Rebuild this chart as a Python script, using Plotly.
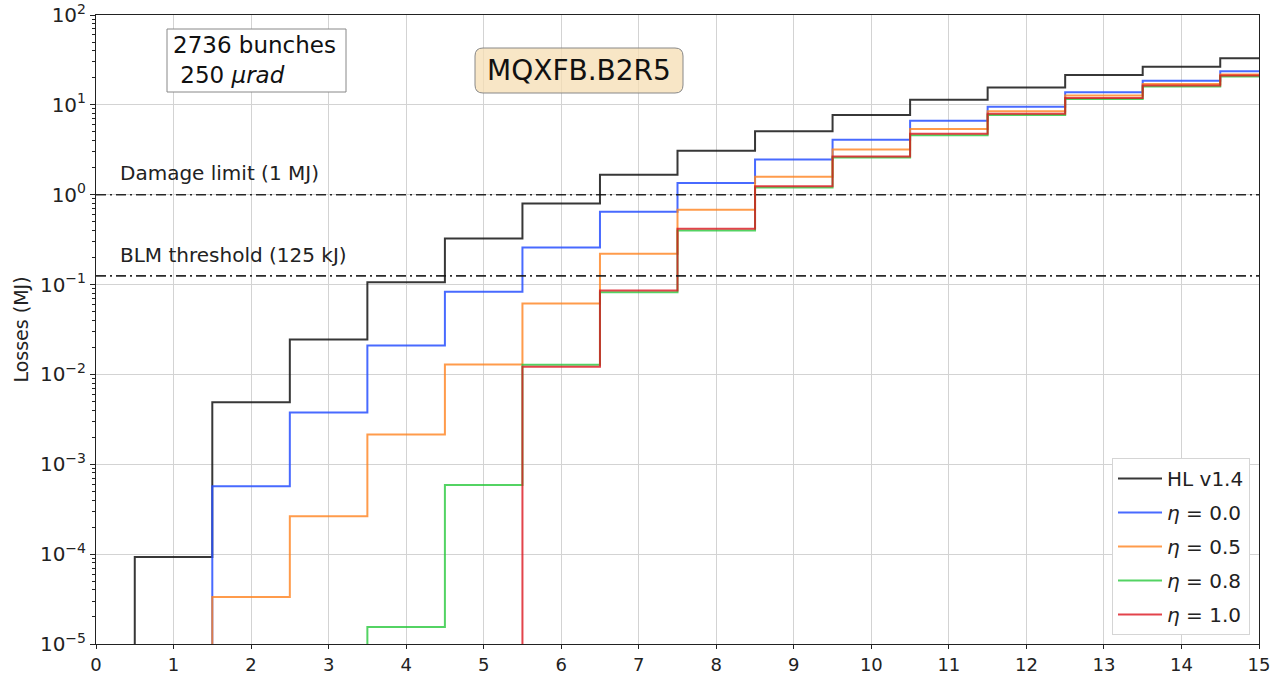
import plotly.graph_objects as go

# Bin index (bins centred on integers, edges at half-integers)
bins = list(range(0, 16))

# Losses per bin in MJ (0 = nothing lost in that bin)
loss_hl = [0, 9.3e-5, 4.9e-3, 2.45e-2, 0.106, 0.326, 0.80, 1.67, 3.08, 5.1, 7.7, 11.4, 15.6, 21.5, 26.5, 33.0]
loss_eta00 = [0, 0, 5.7e-4, 3.78e-3, 0.021, 0.083, 0.258, 0.647, 1.35, 2.47, 4.08, 6.64, 9.5, 13.8, 18.5, 23.7]
loss_eta05 = [0, 0, 3.33e-5, 2.64e-4, 2.15e-3, 0.0129, 0.0615, 0.221, 0.68, 1.585, 3.19, 5.37, 8.5, 12.7, 17.1, 21.7]
loss_eta08 = [0, 0, 0, 0, 1.55e-5, 5.9e-4, 0.0128, 0.082, 0.40, 1.20, 2.6, 4.6, 7.7, 11.6, 16.0, 20.7]
loss_eta10 = [0, 0, 0, 0, 0, 0, 0.0122, 0.0858, 0.419, 1.24, 2.66, 4.76, 7.94, 11.9, 16.4, 21.2]

series_names = ["HL v1.4", "<i>η</i> = 0.0", "<i>η</i> = 0.5", "<i>η</i> = 0.8", "<i>η</i> = 1.0"]
series_values = [loss_hl, loss_eta00, loss_eta05, loss_eta08, loss_eta10]
series_colors = ["rgba(20,20,20,0.85)", "rgba(40,80,255,0.85)", "rgba(255,130,30,0.8)",
                 "rgba(40,200,60,0.8)", "rgba(220,20,30,0.8)"]

damage_limit = 1.0      # MJ
blm_threshold = 0.125   # MJ

y_tick_exp = list(range(-5, 3))
x_ticks = list(range(0, 16))

FLOOR = 1e-12  # empty bins drawn far below the visible range

fig = go.Figure()
for i, (name, vals, col) in enumerate(zip(series_names, series_values, series_colors)):
    fig.add_trace(go.Scatter(
        x=bins, y=[v if v > 0 else FLOOR for v in vals],
        mode="lines", line=dict(color=col, width=2, shape="hvh"),
        name=name, legendgroup=f"g{i}",
    ))

for level in (damage_limit, blm_threshold):
    fig.add_shape(type="line", xref="x", yref="y", x0=0, x1=15, y0=level, y1=level,
                  line=dict(color="rgba(20,20,20,0.9)", width=1.6, dash="10px,4px,2px,4px"))

font = "DejaVu Sans, Verdana, sans-serif"
W, H = 1274, 674
L, R, T, B = 96, 15, 15, 30
pw, ph = W - L - R, H - T - B


def px(xp):
    return (xp - L) / pw


def py(yp):
    return (H - B - yp) / ph


# info box (square corners)
fig.add_shape(type="rect", xref="paper", yref="paper",
              x0=px(167), x1=px(346), y0=py(92), y1=py(29),
              line=dict(color="#888", width=1), fillcolor="white", layer="above")
fig.add_annotation(xref="paper", yref="paper", x=px(171), y=py(60), xanchor="left", yanchor="middle",
                   text="2736 bunches<br>\u00a0250 <i>μrad</i>", showarrow=False, align="left",
                   font=dict(family=font, size=23, color="#111"))

# magnet name in a rounded box
x0, x1, yb, yt = px(475), px(683), py(93), py(48)
rx, ry = 8 / pw, 8 / ph
path = (f"M{x0+rx},{yb} L{x1-rx},{yb} Q{x1},{yb} {x1},{yb+ry} L{x1},{yt-ry} Q{x1},{yt} {x1-rx},{yt} "
        f"L{x0+rx},{yt} Q{x0},{yt} {x0},{yt-ry} L{x0},{yb+ry} Q{x0},{yb} {x0+rx},{yb} Z")
fig.add_shape(type="path", xref="paper", yref="paper", path=path,
              fillcolor="rgba(245,222,179,0.75)", line=dict(color="#888", width=1), layer="above")
fig.add_annotation(xref="paper", yref="paper", x=px(579), y=py(71), xanchor="center", yanchor="middle",
                   text="MQXFB.B2R5", showarrow=False, font=dict(family=font, size=28, color="#111"))

fig.add_annotation(xref="paper", yref="paper", x=px(118), y=py(173), xanchor="left", yanchor="middle",
                   text="Damage limit (1 MJ)", showarrow=False, font=dict(family=font, size=20, color="#222"))
fig.add_annotation(xref="paper", yref="paper", x=px(118), y=py(255), xanchor="left", yanchor="middle",
                   text="BLM threshold (125 kJ)", showarrow=False, font=dict(family=font, size=20, color="#222"))

minor_vals = [k * 10.0 ** e for e in range(-5, 2) for k in range(2, 10)]

fig.update_layout(
    width=W, height=H,
    margin=dict(l=L, r=R, t=T, b=B, autoexpand=False),
    paper_bgcolor="white", plot_bgcolor="white",
    font=dict(family=font, size=19, color="#222"),
    showlegend=True,
    legend=dict(x=px(1250), y=py(635), xanchor="right", yanchor="bottom",
                bgcolor="white", bordercolor="#d5d5d5", borderwidth=1,
                font=dict(family=font, size=20, color="#222"),
                itemwidth=44, traceorder="grouped", tracegroupgap=5),
    xaxis=dict(range=[0, 15], tickmode="array", tickvals=x_ticks, ticktext=[str(v) for v in x_ticks],
               showgrid=True, gridcolor="#d3d3d3", gridwidth=1, automargin=False,
               showline=True, linecolor="#222", linewidth=1, mirror=True,
               ticks="outside", ticklen=4, tickcolor="#222", zeroline=False,
               tickfont=dict(size=18)),
    yaxis=dict(type="log", range=[-5, 2], tickmode="array", automargin=False,
               tickvals=[10.0 ** e for e in y_tick_exp],
               ticktext=[f"10<sup>{'−' if e < 0 else ''}{abs(e)}</sup>" for e in y_tick_exp],
               showgrid=True, gridcolor="#d3d3d3", gridwidth=1,
               showline=True, linecolor="#222", linewidth=1, mirror=True,
               ticks="outside", ticklen=5, tickcolor="#222", zeroline=False,
               minor=dict(tickmode="array", tickvals=minor_vals, ticks="outside", ticklen=3,
                          tickcolor="#222", showgrid=False),
               title=dict(text="Losses (MJ)", font=dict(size=19), standoff=6),
               tickfont=dict(size=20)),
)

fig.write_html("out.html")
